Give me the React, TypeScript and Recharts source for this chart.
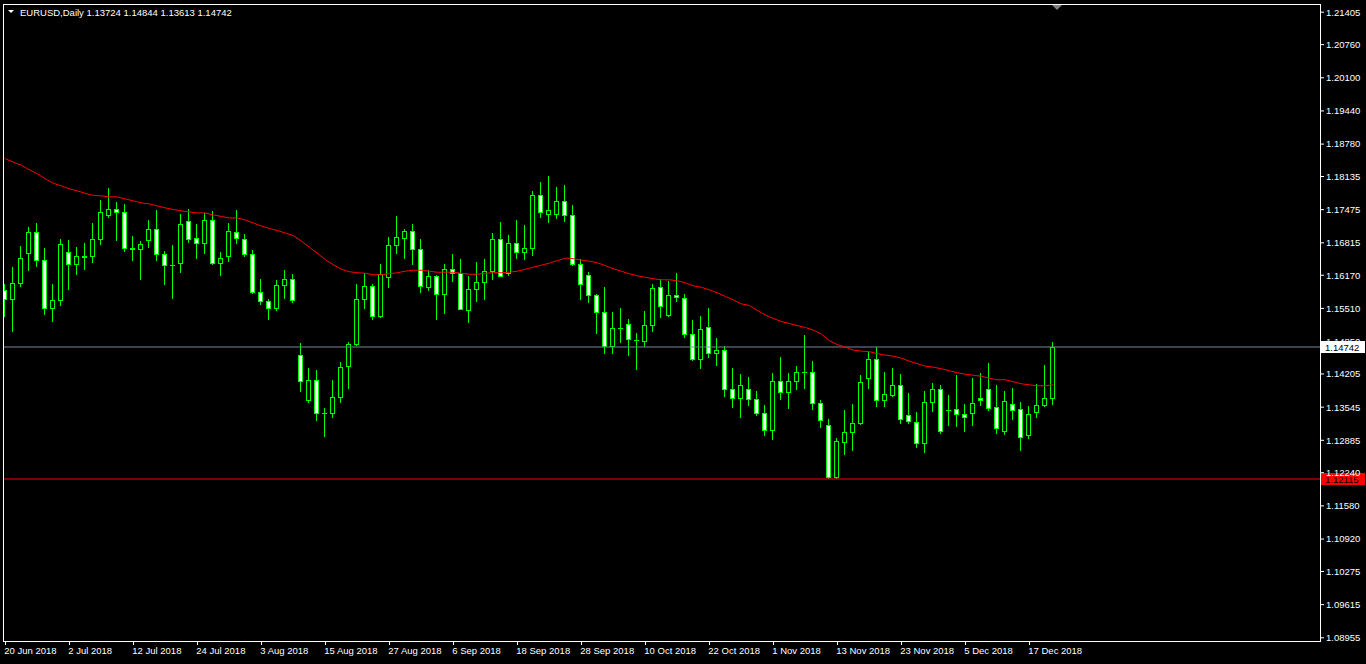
import React from "react";
import { ComposedChart, Bar, Line, XAxis, YAxis, ReferenceLine } from "recharts";

// EURUSD daily candles (oldest first)
const opens = [
  1.1587, 1.157, 1.1602, 1.1661, 1.1703, 1.1647, 1.1552, 1.1568, 1.1663, 1.1639, 1.1654, 1.1655, 1.1689,
  1.1736, 1.1749, 1.1743, 1.1671, 1.1669, 1.1688, 1.1709, 1.1659, 1.1638, 1.1641, 1.1725, 1.1691, 1.1681,
  1.1727, 1.1641, 1.1655, 1.1703, 1.1689, 1.1659, 1.1584, 1.1566, 1.1552, 1.1598, 1.161, 1.1458, 1.1368,
  1.1409, 1.1343, 1.1343, 1.1375, 1.1436, 1.148, 1.1569, 1.1596, 1.1535, 1.1613, 1.1677, 1.1692, 1.1705,
  1.1669, 1.1593, 1.1616, 1.158, 1.1629, 1.1621, 1.1548, 1.159, 1.1604, 1.1625, 1.1689, 1.1621, 1.1681,
  1.1663, 1.1671, 1.1777, 1.1738, 1.1738, 1.1765, 1.1737, 1.1639, 1.1618, 1.1578, 1.1544, 1.1476, 1.1512,
  1.152, 1.1489, 1.1487, 1.1518, 1.1594, 1.1537, 1.1578, 1.1572, 1.15, 1.145, 1.1514, 1.1462, 1.1468,
  1.1391, 1.1373, 1.1391, 1.1371, 1.1343, 1.1309, 1.1407, 1.1384, 1.1407, 1.1424, 1.1424, 1.1363, 1.1319,
  1.1215, 1.1285, 1.1305, 1.1322, 1.1412, 1.145, 1.1369, 1.1378, 1.1399, 1.1339, 1.1325, 1.1284, 1.1364,
  1.1391, 1.1348, 1.1351, 1.1341, 1.1343, 1.1373, 1.1391, 1.1355, 1.1308, 1.1361, 1.1351, 1.13, 1.1344,
  1.1358, 1.13724,
];

const highs = [
  1.16, 1.1634, 1.1675, 1.1713, 1.172, 1.1671, 1.16, 1.169, 1.1688, 1.1673, 1.1681, 1.172, 1.1767,
  1.1791, 1.1763, 1.1759, 1.1696, 1.1686, 1.1726, 1.1746, 1.1665, 1.1678, 1.1739, 1.1749, 1.1718, 1.174,
  1.1744, 1.1664, 1.172, 1.1746, 1.17, 1.1668, 1.161, 1.157, 1.1608, 1.1628, 1.162, 1.1483, 1.1432,
  1.1429, 1.1353, 1.1409, 1.1445, 1.1484, 1.16, 1.1621, 1.16, 1.164, 1.1693, 1.1734, 1.171, 1.1718,
  1.169, 1.1627, 1.1618, 1.164, 1.166, 1.165, 1.1616, 1.1644, 1.165, 1.1702, 1.1722, 1.1698, 1.1726,
  1.1716, 1.1785, 1.1803, 1.1815, 1.1793, 1.1797, 1.1757, 1.1649, 1.1624, 1.158, 1.1594, 1.1543, 1.1551,
  1.1529, 1.1503, 1.1545, 1.16, 1.161, 1.1606, 1.1622, 1.158, 1.1527, 1.1535, 1.1551, 1.1493, 1.1477,
  1.1433, 1.1421, 1.1415, 1.1387, 1.1359, 1.1423, 1.1455, 1.1423, 1.1437, 1.1498, 1.1447, 1.1369, 1.133,
  1.1294, 1.1348, 1.1361, 1.1419, 1.1465, 1.1474, 1.1425, 1.1433, 1.1421, 1.1383, 1.1344, 1.1387, 1.1402,
  1.1399, 1.1379, 1.1419, 1.1361, 1.1413, 1.1423, 1.1443, 1.1399, 1.1387, 1.1393, 1.1365, 1.1357, 1.1401,
  1.1439, 1.14844,
];

const lows = [
  1.1535, 1.1507, 1.1595, 1.1627, 1.1635, 1.1539, 1.1525, 1.1557, 1.1589, 1.1619, 1.1629, 1.1643, 1.1679,
  1.1732, 1.1688, 1.1665, 1.1648, 1.161, 1.1674, 1.1648, 1.16, 1.1572, 1.1624, 1.1683, 1.1652, 1.1662,
  1.1639, 1.1618, 1.1646, 1.1682, 1.1656, 1.1581, 1.1559, 1.1529, 1.1547, 1.1571, 1.1563, 1.1386, 1.1364,
  1.1328, 1.1298, 1.1334, 1.1364, 1.1392, 1.1478, 1.1551, 1.1529, 1.1533, 1.1593, 1.1661, 1.1651, 1.164,
  1.1583, 1.1587, 1.1529, 1.1541, 1.1605, 1.1549, 1.1523, 1.1565, 1.1569, 1.1609, 1.1615, 1.1617, 1.1651,
  1.1649, 1.1657, 1.1732, 1.1723, 1.173, 1.1724, 1.1637, 1.1569, 1.1563, 1.1503, 1.1462, 1.1462, 1.1484,
  1.1458, 1.143, 1.1476, 1.1507, 1.1533, 1.1535, 1.1565, 1.1495, 1.1448, 1.1432, 1.1454, 1.1438, 1.1376,
  1.1354, 1.1334, 1.1358, 1.1338, 1.13, 1.1292, 1.137, 1.1353, 1.139, 1.1392, 1.135, 1.1314, 1.1214,
  1.1214, 1.1261, 1.1269, 1.132, 1.1392, 1.1356, 1.1356, 1.1377, 1.1322, 1.1322, 1.1275, 1.1265, 1.1346,
  1.1304, 1.1318, 1.1316, 1.1308, 1.1318, 1.1358, 1.1349, 1.1304, 1.1302, 1.133, 1.1269, 1.1294, 1.1334,
  1.1356, 1.13613,
];

const closes = [
  1.157, 1.1602, 1.1651, 1.1703, 1.1647, 1.1552, 1.1568, 1.1679, 1.1639, 1.1655, 1.1655, 1.1689, 1.1743,
  1.1749, 1.1742, 1.1671, 1.167, 1.1679, 1.1709, 1.1659, 1.1637, 1.1638, 1.1719, 1.169, 1.1681, 1.1727,
  1.1641, 1.1651, 1.1705, 1.1691, 1.1659, 1.1583, 1.1566, 1.1552, 1.1598, 1.161, 1.1567, 1.1406, 1.1409,
  1.1343, 1.1343, 1.1375, 1.1434, 1.148, 1.157, 1.1596, 1.1535, 1.162, 1.1677, 1.1693, 1.1705, 1.1669,
  1.1595, 1.1616, 1.158, 1.1629, 1.1621, 1.155, 1.159, 1.1604, 1.1625, 1.1689, 1.1616, 1.1681, 1.1663,
  1.1671, 1.1777, 1.1743, 1.1747, 1.1765, 1.1736, 1.1639, 1.1599, 1.1577, 1.1544, 1.1476, 1.1512, 1.1512,
  1.149, 1.1489, 1.1518, 1.1592, 1.1556, 1.1578, 1.1574, 1.15, 1.145, 1.151, 1.1462, 1.1469, 1.1391,
  1.1373, 1.1399, 1.1371, 1.1343, 1.1309, 1.1407, 1.1384, 1.1407, 1.1424, 1.1424, 1.1363, 1.1329, 1.1215,
  1.1287, 1.1305, 1.1323, 1.1405, 1.145, 1.1369, 1.1381, 1.1399, 1.1331, 1.1327, 1.1283, 1.1365, 1.1391,
  1.1308, 1.1348, 1.134, 1.1335, 1.1363, 1.1369, 1.1353, 1.1313, 1.1367, 1.1348, 1.1295, 1.1341, 1.1359,
  1.1373, 1.14742,
];

// red moving average
const maValues = [
  1.1849, 1.1842, 1.1836, 1.1827, 1.1819, 1.1809, 1.18, 1.1795, 1.1789, 1.1785, 1.178, 1.1776, 1.1775,
  1.1773, 1.1773, 1.1769, 1.1765, 1.1761, 1.1759, 1.1755, 1.1751, 1.1748, 1.1745, 1.1743, 1.1741, 1.1741,
  1.1737, 1.1734, 1.1731, 1.1731, 1.1727, 1.1721, 1.1715, 1.171, 1.1706, 1.1701, 1.1696, 1.1685, 1.1673,
  1.1661, 1.1648, 1.1638, 1.1629, 1.1624, 1.1622, 1.1621, 1.1618, 1.1618, 1.162, 1.1622, 1.1625, 1.1627,
  1.1627, 1.1625, 1.1623, 1.1623, 1.1623, 1.1621, 1.1619, 1.1619, 1.1621, 1.1622, 1.1622, 1.1623, 1.1625,
  1.1629, 1.1633, 1.1637, 1.1641, 1.1646, 1.1651, 1.165, 1.1647, 1.1645, 1.1642, 1.1636, 1.163, 1.1625,
  1.162, 1.1616, 1.1613, 1.161, 1.1608, 1.1608, 1.1606, 1.1602, 1.1596, 1.1593, 1.1588, 1.1582, 1.1575,
  1.1568, 1.156, 1.1557, 1.1547, 1.1538, 1.1531, 1.1525, 1.1521, 1.1517, 1.1513, 1.1508, 1.15, 1.1487,
  1.1479, 1.1474, 1.1468, 1.1466, 1.1465, 1.1461, 1.1458, 1.1456, 1.1452, 1.1446, 1.1441, 1.1436, 1.1434,
  1.1431, 1.1427, 1.1423, 1.142, 1.1418, 1.1416, 1.1412, 1.1409, 1.1409, 1.1405, 1.1401, 1.1399, 1.1397,
  1.1397, 1.1399,
];

const priceTicks = [
  1.21405, 1.2076, 1.201, 1.1944, 1.1878, 1.18135, 1.17475, 1.16815, 1.1617, 1.1551, 1.1485, 1.14205,
  1.13545, 1.12885, 1.1224, 1.1158, 1.1092, 1.10275, 1.09615, 1.08955,
];

const dateTicks = [0, 8, 16, 24, 32, 40, 48, 56, 64, 72, 80, 88, 96, 104, 112, 120, 128];
const dateLabels = [
  "20 Jun 2018", "2 Jul 2018", "12 Jul 2018", "24 Jul 2018", "3 Aug 2018", "15 Aug 2018", "27 Aug 2018",
  "6 Sep 2018", "18 Sep 2018", "28 Sep 2018", "10 Oct 2018", "22 Oct 2018", "1 Nov 2018", "13 Nov 2018",
  "23 Nov 2018", "5 Dec 2018", "17 Dec 2018",
];

const bidPrice = 1.14742;
const alertPrice = 1.12115;

const GREEN = "#00ff00";
const FONT = "'Liberation Sans', Arial, sans-serif";

const data = opens.map((o, i) => ({
  i,
  open: o,
  high: highs[i],
  low: lows[i],
  close: closes[i],
  ma: maValues[i],
}));

function Candle(props: any) {
  const { x, y, width, height, payload } = props;
  if (x == null || y == null || !payload) return null;
  const { open, close, high, low } = payload;
  const top = Math.min(y, y + height);
  const h = Math.abs(height);
  const k = high > low ? h / (high - low) : 0;
  const yOf = (p: number) => Math.round(top + (high - p) * k);
  const c = Math.floor(x + width / 2);
  const yH = yOf(high);
  const yL = yOf(low);
  const yO = yOf(open);
  const yC = yOf(close);
  const bTop = Math.min(yO, yC);
  const bBot = Math.max(yO, yC);
  const bull = close >= open;
  return (
    <g>
      <rect x={c} y={yH} width={1} height={Math.max(1, yL - yH + 1)} fill={GREEN} />
      {bBot - bTop < 1 ? (
        <rect x={c - 2} y={yO} width={5} height={1} fill={GREEN} />
      ) : (
        <rect
          x={c - 1.5}
          y={bTop + 0.5}
          width={4}
          height={bBot - bTop}
          fill={bull ? "#000" : "#fff"}
          stroke={GREEN}
          strokeWidth={1}
        />
      )}
    </g>
  );
}

function DateTick(props: any) {
  const { x, y, payload } = props;
  const label = dateLabels[dateTicks.indexOf(payload.value)];
  const px = Math.floor(x) + 0.5;
  return (
    <g>
      <line x1={px} x2={px} y1={y} y2={y + 4} stroke="#fff" />
      <text x={x - 1} y={y + 13} fill="#fff" fontSize={9.5} fontFamily={FONT} textAnchor="start">
        {label}
      </text>
    </g>
  );
}

function PriceTag(props: any) {
  const { viewBox, text, bg } = props;
  if (!viewBox) return null;
  const right = viewBox.x + viewBox.width;
  const yy = Math.round(viewBox.y);
  return (
    <g>
      <rect x={right + 1} y={yy - 6} width={44} height={12} fill={bg} />
      <text x={right + 5} y={yy + 4} fill="#000" fontSize={9.5} fontFamily={FONT}>
        {text}
      </text>
    </g>
  );
}

export default function App() {
  return (
    <div style={{ position: "fixed", left: 0, top: 0, width: 1366, height: 664, background: "#000", overflow: "hidden" }}>
      <ComposedChart
        width={1366}
        height={664}
        data={data}
        margin={{ top: 4, right: 0, bottom: 0, left: 4 }}
      >
        <XAxis
          dataKey="i"
          type="number"
          domain={[-0.1625, 164.34]}
          allowDataOverflow
          ticks={dateTicks}
          interval={0}
          height={23}
          axisLine={false}
          tickLine={false}
          tickSize={0}
          tickMargin={0}
          tick={<DateTick />}
        />
        <YAxis
          orientation="right"
          type="number"
          domain={[1.08891, 1.21568]}
          allowDataOverflow
          ticks={priceTicks}
          interval={0}
          width={46}
          axisLine={false}
          tickLine={{ stroke: "#fff" }}
          tickSize={4}
          tickMargin={2}
          tick={{ fill: "#fff", fontSize: 9.5, fontFamily: FONT }}
          tickFormatter={(v: number) => v.toFixed(5)}
        />
        <ReferenceLine
          y={bidPrice}
          stroke="#778899"
          label={<PriceTag text={bidPrice.toFixed(5)} bg="#fff" />}
        />
        <ReferenceLine
          y={alertPrice}
          stroke="#ff0000"
          label={<PriceTag text={alertPrice.toFixed(5)} bg="#ff0000" />}
        />
        <Line
          dataKey="ma"
          type="linear"
          stroke="#ff0000"
          strokeWidth={1}
          dot={false}
          activeDot={false}
          isAnimationActive={false}
        />
        <Bar
          dataKey={(d: any) => [d.low, d.high]}
          barSize={5}
          shape={(p: any) => <Candle {...p} />}
          isAnimationActive={false}
        />
      </ComposedChart>
      <svg width={1366} height={664} style={{ position: "absolute", left: 0, top: 0, pointerEvents: "none" }}>
        <rect x={3.5} y={4.5} width={1317} height={637} fill="none" stroke="#fff" />
        <path d="M8 10 L14 10 L11 13 Z" fill="#fff" />
        <text x={20} y={16} fill="#fff" fontSize={9.5} fontFamily={FONT}>
          EURUSD,Daily  1.13724 1.14844 1.13613 1.14742
        </text>
        <path d="M1052 5 L1062 5 L1057 10 Z" fill="#808080" />
      </svg>
    </div>
  );
}
